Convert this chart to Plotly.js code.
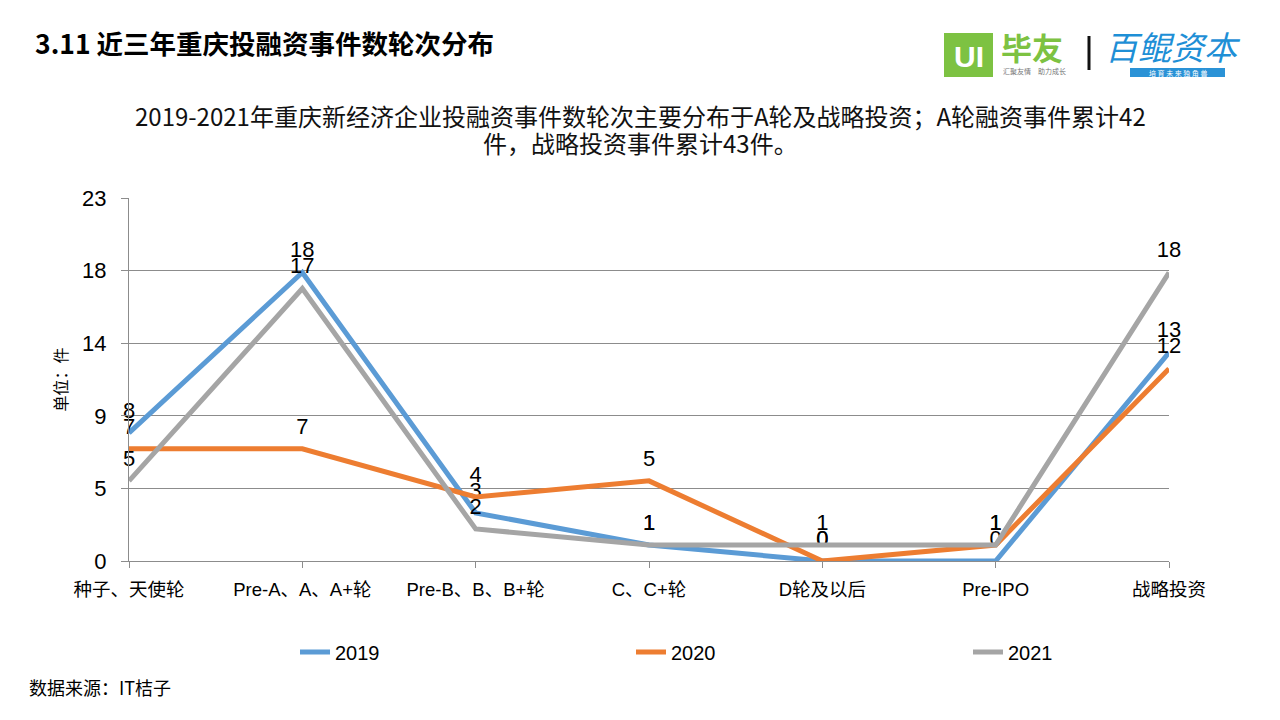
<!DOCTYPE html>
<html>
<head>
<meta charset="utf-8">
<script src="https://cdn.plot.ly/plotly-3.0.1.min.js"></script>
<style>html,body{margin:0;padding:0;background:#fff;}#chart{width:1280px;height:720px;}</style>
</head>
<body>
<div id="chart"></div>
<script>
const categories = ['种子、天使轮','Pre-A、A、A+轮','Pre-B、B、B+轮','C、C+轮','D轮及以后','Pre-IPO','战略投资'];
const seriesNames = ['2019','2020','2021'];
const values2019 = [8, 18, 3, 1, 0, 0, 13];
const values2020 = [7, 7, 4, 5, 0, 1, 12];
const values2021 = [5, 17, 2, 1, 1, 1, 18];
const yTickText = ['0','5','9','14','18','23'];
const yMax = 22.65;
const colors = ['#5B9BD5','#ED7D31','#A5A5A5'];
const subtitleLines = ['2019-2021年重庆新经济企业投融资事件数轮次主要分布于A轮及战略投资；A轮融资事件累计42', '件，战略投资事件累计43件。'];

const F = '"Liberation Sans", Arial, "Noto Sans CJK SC", sans-serif';
const FC = '"Noto Sans CJK SC", "Liberation Sans", sans-serif';

// plot area in pixels
const L = 129, R = 1169, T = 198, B = 561;
const px = x => (x - L) / (R - L);
const py = y => (B - y) / (B - T);

const legendIds = ['legend', 'legend2', 'legend3'];
const legendLeft = [295, 631, 968];

const allVals = [values2019, values2020, values2021];
const traces = allVals.map((v, i) => ({
  type: 'scatter',
  mode: 'lines+markers+text',
  name: seriesNames[i],
  legend: legendIds[i],
  x: categories.map((c, k) => k),
  y: v,
  text: v.map(String),
  textposition: 'top center',
  textfont: {family: F, size: 22, color: '#000'},
  line: {color: colors[i], width: 5},
  marker: {size: 14, color: 'rgba(0,0,0,0)', line: {width: 0}},
  cliponaxis: false,
  hoverinfo: 'skip'
}));

const legendBase = i => ({
  orientation: 'h',
  x: px(legendLeft[i]), xanchor: 'left',
  y: py(652), yanchor: 'middle',
  font: {family: F, size: 20, color: '#000'},
  itemwidth: 30,
  bgcolor: 'rgba(0,0,0,0)'
});

const layout = {
  width: 1280, height: 720,
  paper_bgcolor: '#fff', plot_bgcolor: '#fff',
  margin: {l: L, r: 1280 - R, t: T, b: 720 - B, pad: 0},
  font: {family: F, color: '#000'},
  title: {
    text: '<b>3.11 近三年重庆投融资事件数轮次分布</b>',
    x: 35 / 1280, xanchor: 'left', xref: 'container',
    y: 1 - 45 / 720, yanchor: 'middle', yref: 'container',
    font: {family: FC, size: 26.5, color: '#000'}
  },
  xaxis: {
    range: [0, 6],
    tickvals: categories.map((c, k) => k),
    ticktext: categories,
    showgrid: false,
    zeroline: false,
    showline: true, linecolor: '#8c8c8c', linewidth: 1,
    ticks: 'outside', ticklen: 6, tickcolor: '#8c8c8c',
    ticklabelstandoff: 6,
    tickfont: {family: F, size: 18.5, color: '#000'},
    fixedrange: true
  },
  yaxis: {
    range: [0, yMax],
    tickvals: yTickText.map((t, i) => i * yMax / 5),
    ticktext: yTickText,
    showgrid: true, gridcolor: '#8c8c8c', gridwidth: 1,
    zeroline: false,
    showline: true, linecolor: '#8c8c8c', linewidth: 1,
    ticks: 'outside', ticklen: 7, tickcolor: '#8c8c8c',
    ticklabelstandoff: 10,
    tickfont: {family: F, size: 22, color: '#000'},
    title: {text: '单位：件', font: {family: FC, size: 16, color: '#000'}, standoff: 10},
    fixedrange: true
  },
  showlegend: true,
  legend: legendBase(0),
  legend2: legendBase(1),
  legend3: legendBase(2),
  shapes: [
    {type: 'rect', xref: 'paper', yref: 'paper', x0: px(944), x1: px(993), y0: py(77), y1: py(33),
     fillcolor: '#7DC242', line: {width: 0}, layer: 'above'},
    {type: 'line', xref: 'paper', yref: 'paper', x0: px(1089), x1: px(1089), y0: py(36), y1: py(70),
     line: {color: '#111', width: 3}},
    {type: 'rect', xref: 'paper', yref: 'paper', x0: px(1130), x1: px(1225), y0: py(77), y1: py(68),
     fillcolor: '#2A92D6', line: {width: 0}}
  ],
  annotations: [
    {xref: 'paper', yref: 'paper', x: 0.5 * (px(944) + px(993)), y: py(56), text: '<b>UI</b>', showarrow: false,
     font: {family: F, size: 30, color: '#fff'}, xanchor: 'center', yanchor: 'middle'},
    {xref: 'paper', yref: 'paper', x: px(999), y: py(46), text: '<b>毕友</b>', showarrow: false,
     font: {family: FC, size: 31, color: '#7DC242'}, xanchor: 'left', yanchor: 'middle'},
    {xref: 'paper', yref: 'paper', x: px(1001), y: py(71), text: '汇聚友情　助力成长', showarrow: false,
     font: {family: FC, size: 7, color: '#777'}, xanchor: 'left', yanchor: 'middle'},
    {xref: 'paper', yref: 'paper', x: px(1103), y: py(46), text: '<i>百鲲资本</i>', showarrow: false,
     font: {family: FC, size: 33, color: '#1E8FD6'}, xanchor: 'left', yanchor: 'middle'},
    {xref: 'paper', yref: 'paper', x: 0.5 * (px(1130) + px(1225)), y: py(72.5), text: '培 育 未 来 独 角 兽', showarrow: false,
     font: {family: FC, size: 7, color: '#fff'}, xanchor: 'center', yanchor: 'middle'},
    {xref: 'paper', yref: 'paper', x: px(640), y: py(115), text: subtitleLines[0],
     showarrow: false, font: {family: FC, size: 24, color: '#111'}, xanchor: 'center', yanchor: 'middle'},
    {xref: 'paper', yref: 'paper', x: px(640), y: py(143), text: subtitleLines[1],
     showarrow: false, font: {family: FC, size: 24, color: '#111'}, xanchor: 'center', yanchor: 'middle'},
    {xref: 'paper', yref: 'paper', x: px(27), y: py(687), text: '数据来源：IT桔子', showarrow: false,
     font: {family: FC, size: 18, color: '#000'}, xanchor: 'left', yanchor: 'middle'}
  ]
};

Plotly.newPlot('chart', traces, layout, {staticPlot: true, displayModeBar: false});
</script>
</body>
</html>
